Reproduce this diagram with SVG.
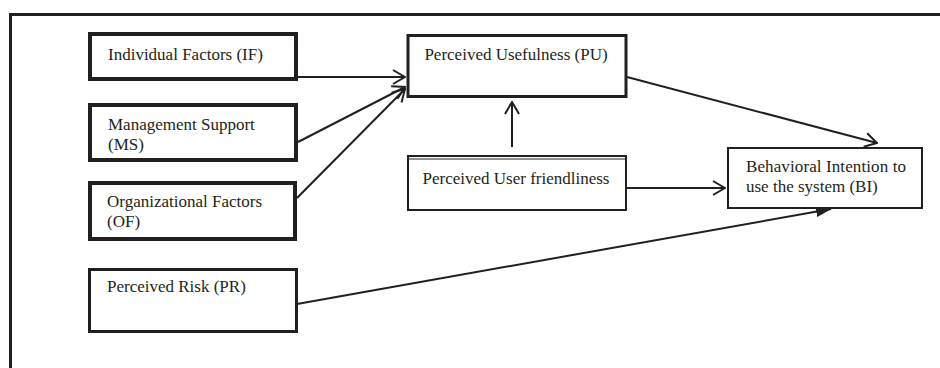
<svg xmlns="http://www.w3.org/2000/svg" width="940" height="368" viewBox="0 0 940 368">
  <style>
    .box { fill: #fff; stroke: #231f20; }
    .thick { stroke-width: 4; }
    .mid { stroke-width: 3; }
    .thin { stroke-width: 2; }
    .lbl { font-family: "Liberation Serif", "Times New Roman", serif; font-size: 17px; fill: #231f20; }
    .edge { fill: none; stroke: #231f20; stroke-width: 2; }
  </style>
  <defs>
    <marker id="open" viewBox="0 0 14 16" refX="13" refY="8" markerWidth="14" markerHeight="16" markerUnits="userSpaceOnUse" orient="auto">
      <path d="M1 1 L13 8 L1 15" fill="none" stroke="#231f20" stroke-width="2"/>
    </marker>
    <marker id="solid" viewBox="0 0 16 11" refX="15" refY="5.5" markerWidth="16" markerHeight="11" markerUnits="userSpaceOnUse" orient="auto">
      <path d="M0 0 L16 5.5 L0 11 Z" fill="#231f20"/>
    </marker>
  </defs>

  <rect width="940" height="368" fill="#fff"/>
  <!-- outer frame, open to the right and bottom -->
  <path d="M10.5 368 V14.5 H940" fill="none" stroke="#231f20" stroke-width="3"/>

  <g id="connectors">
    <line class="edge" x1="298" y1="77" x2="405" y2="77" marker-end="url(#open)"/>
    <line class="edge" x1="298" y1="142" x2="405" y2="87" marker-end="url(#open)"/>
    <line class="edge" x1="297" y1="198" x2="405" y2="89" marker-end="url(#open)"/>
    <line class="edge" x1="512" y1="147" x2="512" y2="102" marker-end="url(#open)"/>
    <line class="edge" x1="627" y1="77" x2="877" y2="143" marker-end="url(#open)"/>
    <line class="edge" x1="627" y1="188" x2="725" y2="188" marker-end="url(#open)"/>
    <line class="edge" x1="297" y1="304" x2="831" y2="209" marker-end="url(#solid)"/>
  </g>

  <g id="if">
    <rect class="box thick" x="90" y="34" width="206" height="45"/>
    <text class="lbl" x="108" y="60">Individual Factors (IF)</text>
  </g>
  <g id="ms">
    <rect class="box thick" x="90" y="105" width="206" height="55"/>
    <text class="lbl" x="108" y="130">Management Support</text>
    <text class="lbl" x="108" y="150">(MS)</text>
  </g>
  <g id="of">
    <rect class="box thick" x="90" y="183" width="205" height="56"/>
    <text class="lbl" x="107" y="207">Organizational Factors</text>
    <text class="lbl" x="107" y="227">(OF)</text>
  </g>
  <g id="pr">
    <rect class="box mid" x="89.5" y="269.5" width="207" height="62"/>
    <text class="lbl" x="107" y="292">Perceived Risk (PR)</text>
  </g>
  <g id="pu">
    <rect class="box mid" x="408" y="35.5" width="218" height="61"/>
    <text class="lbl" x="516" y="60" text-anchor="middle">Perceived Usefulness (PU)</text>
  </g>
  <g id="puf">
    <rect class="box thin" x="408" y="156" width="218" height="54"/>
    <line x1="408" y1="159" x2="626" y2="159" stroke="#231f20" stroke-width="1"/>
    <text class="lbl" x="516" y="184" text-anchor="middle">Perceived User friendliness</text>
  </g>
  <g id="bi">
    <rect class="box thin" x="728" y="148" width="194" height="60"/>
    <text class="lbl" x="746" y="172" textLength="160" lengthAdjust="spacing">Behavioral Intention to</text>
    <text class="lbl" x="746" y="192">use the system (BI)</text>
  </g>
</svg>
